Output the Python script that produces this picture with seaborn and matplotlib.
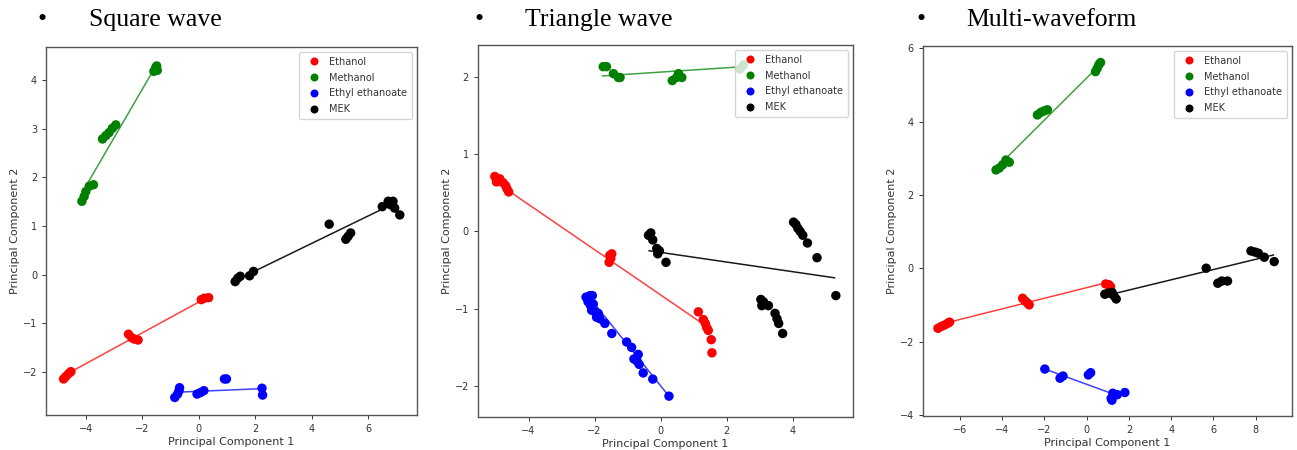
import numpy as np
import pandas as pd
import matplotlib
matplotlib.use("Agg")
import matplotlib.pyplot as plt
import seaborn as sns

# ---------------- data ----------------
substances = ["Ethanol", "Methanol", "Ethyl ethanoate", "MEK"]
colors = {"Ethanol": "red", "Methanol": "green", "Ethyl ethanoate": "blue", "MEK": "black"}
panel_titles = ["Square wave", "Triangle wave", "Multi-waveform"]

# Square wave
sq_ethanol_x = [-4.79, -4.71, -4.61, -4.53, -2.49, -2.38, -2.29, -2.15, 0.09, 0.20, 0.35]
sq_ethanol_y = [-2.14, -2.09, -2.03, -1.99, -1.22, -1.29, -1.32, -1.34, -0.51, -0.48, -0.47]
sq_methanol_x = [-4.14, -4.06, -4.00, -3.88, -3.73, -3.41, -3.29, -3.18, -3.06, -2.94, -1.59, -1.53, -1.49, -1.47]
sq_methanol_y = [1.51, 1.61, 1.71, 1.82, 1.85, 2.79, 2.86, 2.92, 3.01, 3.08, 4.18, 4.25, 4.29, 4.20]
sq_ethyl_x = [-0.85, -0.75, -0.70, -0.68, -0.06, 0.06, 0.18, 0.91, 0.98, 2.24, 2.26]
sq_ethyl_y = [-2.52, -2.45, -2.38, -2.32, -2.45, -2.42, -2.38, -2.14, -2.14, -2.33, -2.47]
sq_mek_x = [1.29, 1.38, 1.47, 1.80, 1.94, 4.62, 5.21, 5.29, 5.38, 6.50, 6.71, 6.79, 6.88, 6.94, 7.12]
sq_mek_y = [-0.14, -0.07, -0.03, -0.02, 0.07, 1.04, 0.73, 0.79, 0.86, 1.40, 1.51, 1.44, 1.51, 1.37, 1.23]
sq_fit_x = {"Ethanol": [-4.52, 0.19], "Methanol": [-4.00, -1.56],
            "Ethyl ethanoate": [-0.70, 2.19], "MEK": [1.96, 6.75]}
sq_fit_y = {"Ethanol": [-1.99, -0.50], "Methanol": [1.82, 4.25],
            "Ethyl ethanoate": [-2.41, -2.34], "MEK": [0.07, 1.42]}

# Triangle wave
tr_ethanol_x = [-5.02, -4.97, -4.90, -4.87, -4.77, -4.69, -4.65, -4.60, -1.54, -1.51, -1.56, -1.48,
                1.14, 1.29, 1.35, 1.39, 1.44, 1.53, 1.55]
tr_ethanol_y = [0.71, 0.64, 0.65, 0.68, 0.63, 0.59, 0.55, 0.51, -0.31, -0.35, -0.40, -0.29,
                -1.04, -1.14, -1.19, -1.24, -1.28, -1.40, -1.57]
tr_methanol_x = [-1.74, -1.64, -1.43, -1.28, -1.23, 0.35, 0.48, 0.54, 0.64, 2.40, 2.50]
tr_methanol_y = [2.13, 2.13, 2.04, 1.99, 1.99, 1.95, 1.99, 2.04, 1.99, 2.10, 2.15]
tr_ethyl_x = [-2.26, -2.14, -2.07, -2.20, -2.12, -2.04, -2.09, -1.99, -1.94, -1.84, -1.89, -1.69,
              -1.48, -1.03, -0.88, -0.81, -0.68, -0.71, -0.65, -0.53, -0.24, 0.25]
tr_ethyl_y = [-0.85, -0.83, -0.83, -0.91, -0.96, -0.94, -1.02, -1.04, -1.11, -1.13, -1.06, -1.19,
              -1.32, -1.43, -1.50, -1.65, -1.59, -1.68, -1.72, -1.83, -1.91, -2.13]
tr_mek_x = [-0.37, -0.30, -0.24, -0.12, -0.09, -0.04, 0.16, 4.02, 4.09, 4.15, 4.22, 4.30, 4.44, 4.73,
            3.03, 3.11, 3.26, 3.06, 3.46, 3.52, 3.57, 3.69, 5.30]
tr_mek_y = [-0.05, -0.02, -0.11, -0.22, -0.29, -0.25, -0.40, 0.12, 0.09, 0.04, 0.00, -0.05, -0.15, -0.34,
            -0.88, -0.91, -0.96, -0.96, -1.06, -1.13, -1.19, -1.32, -0.83]
tr_fit_x = {"Ethanol": [-4.62, 1.19], "Methanol": [-1.76, 2.50],
            "Ethyl ethanoate": [-2.24, 0.25], "MEK": [-0.35, 5.26]}
tr_fit_y = {"Ethanol": [0.53, -1.17], "Methanol": [2.01, 2.13],
            "Ethyl ethanoate": [-0.81, -2.13], "MEK": [-0.25, -0.60]}

# Multi-waveform
mw_ethanol_x = [-7.04, -6.89, -6.73, -6.57, -6.49, -3.03, -2.92, -2.80, -2.72, 0.90, 1.05, 1.13]
mw_ethanol_y = [-1.64, -1.59, -1.55, -1.50, -1.47, -0.82, -0.89, -0.95, -1.00, -0.43, -0.45, -0.50]
mw_methanol_x = [-4.29, -4.14, -3.98, -3.82, -3.66, -2.33, -2.17, -2.01, -1.86, 0.42, 0.50, 0.58, 0.66]
mw_methanol_y = [2.68, 2.73, 2.82, 2.95, 2.89, 4.18, 4.25, 4.29, 4.32, 5.36, 5.45, 5.55, 5.61]
mw_ethyl_x = [-1.98, -1.26, -1.12, 0.08, 0.19, 1.16, 1.20, 1.24, 1.45, 1.81]
mw_ethyl_y = [-2.75, -3.00, -2.94, -2.91, -2.85, -3.55, -3.60, -3.41, -3.45, -3.39]
mw_mek_x = [0.86, 1.02, 1.21, 1.29, 1.40, 5.66, 6.21, 6.40, 6.67, 7.78, 7.97, 8.13, 8.41, 8.88]
mw_mek_y = [-0.71, -0.68, -0.66, -0.75, -0.84, 0.00, -0.41, -0.35, -0.35, 0.47, 0.44, 0.41, 0.30, 0.18]
mw_fit_x = {"Ethanol": [-6.57, 0.97], "Methanol": [-3.90, 0.46],
            "Ethyl ethanoate": [-1.98, 1.16], "MEK": [1.40, 8.84]}
mw_fit_y = {"Ethanol": [-1.48, -0.39], "Methanol": [2.95, 5.45],
            "Ethyl ethanoate": [-2.75, -3.41], "MEK": [-0.68, 0.36]}

x_ticks = [[-4, -2, 0, 2, 4, 6], [-4, -2, 0, 2, 4], [-6, -4, -2, 0, 2, 4, 6, 8]]
y_ticks = [[-2, -1, 0, 1, 2, 3, 4], [-2, -1, 0, 1, 2], [-4, -2, 0, 2, 4, 6]]
x_limits = [(-5.41, 7.73), (-5.53, 5.82), (-7.75, 9.72)]
y_limits = [(-2.88, 4.68), (-2.40, 2.41), (-4.03, 6.06)]

# ---------------- build tables ----------------
def make_df(ex, ey, mx, my, bx, by, kx, ky):
    parts = []
    for name, xs, ys in [("Ethanol", ex, ey), ("Methanol", mx, my),
                         ("Ethyl ethanoate", bx, by), ("MEK", kx, ky)]:
        parts.append(pd.DataFrame({"PC1": xs, "PC2": ys, "substance": name}))
    return pd.concat(parts, ignore_index=True)

def make_fit(fx, fy):
    parts = []
    for name in substances:
        parts.append(pd.DataFrame({"PC1": fx[name], "PC2": fy[name], "substance": name}))
    return pd.concat(parts, ignore_index=True)

panels = [
    (make_df(sq_ethanol_x, sq_ethanol_y, sq_methanol_x, sq_methanol_y,
             sq_ethyl_x, sq_ethyl_y, sq_mek_x, sq_mek_y), make_fit(sq_fit_x, sq_fit_y)),
    (make_df(tr_ethanol_x, tr_ethanol_y, tr_methanol_x, tr_methanol_y,
             tr_ethyl_x, tr_ethyl_y, tr_mek_x, tr_mek_y), make_fit(tr_fit_x, tr_fit_y)),
    (make_df(mw_ethanol_x, mw_ethanol_y, mw_methanol_x, mw_methanol_y,
             mw_ethyl_x, mw_ethyl_y, mw_mek_x, mw_mek_y), make_fit(mw_fit_x, mw_fit_y)),
]

# ---------------- figure ----------------
plt.rcParams["font.family"] = ["DejaVu Sans"]
fig = plt.figure(figsize=(12.97, 4.5), dpi=100)

axes_rects = [
    [0.0355, 0.0778, 0.2860, 0.8178],
    [0.3685, 0.0733, 0.2892, 0.8267],
    [0.7116, 0.0756, 0.2845, 0.8222],
]
title_pos = [(0.029, 0.069), (0.366, 0.405), (0.707, 0.745)]

for i, (df, fit) in enumerate(panels):
    ax = fig.add_axes(axes_rects[i])
    sns.scatterplot(data=df, x="PC1", y="PC2", hue="substance", hue_order=substances,
                    palette=colors, s=46, edgecolor="none", linewidth=0, ax=ax, zorder=2)
    for name in substances:
        sub = fit[fit["substance"] == name]
        sns.lineplot(data=sub, x="PC1", y="PC2", color=colors[name], sort=False,
                     estimator=None, lw=1.1, alpha=0.75 if name != "MEK" else 0.9,
                     legend=False, ax=ax, zorder=3)
    ax.set_xticks(x_ticks[i])
    ax.set_yticks(y_ticks[i])
    ax.set_xticklabels([str(t).replace("-", "\u2212") for t in x_ticks[i]])
    ax.set_yticklabels([str(t).replace("-", "\u2212") for t in y_ticks[i]])
    ax.set_xlim(*x_limits[i])
    ax.set_ylim(*y_limits[i])
    ax.tick_params(labelsize=7, colors="#333333", length=3, width=0.7)
    for sp in ax.spines.values():
        sp.set_color("#555555")
        sp.set_linewidth(1.0)
    ax.set_xlabel("Principal Component 1", fontsize=8, color="#333333", labelpad=2)
    ax.set_ylabel("Principal Component 2", fontsize=8, color="#333333", labelpad=2)
    leg = ax.legend(loc="upper right", fontsize=7, markerscale=0.85, framealpha=0.8,
                    handletextpad=0.6, borderpad=0.5, labelspacing=0.6)
    leg.get_frame().set_edgecolor("#cccccc")
    for t in leg.get_texts():
        t.set_color("#333333")
    bx, tx = title_pos[i]
    fig.text(bx, 0.942, "\u2022", fontsize=18.5, family="Liberation Serif", va="baseline")
    fig.text(tx, 0.942, panel_titles[i], fontsize=18.5, family="Liberation Serif", va="baseline")

fig.savefig("out.png", dpi=100)
